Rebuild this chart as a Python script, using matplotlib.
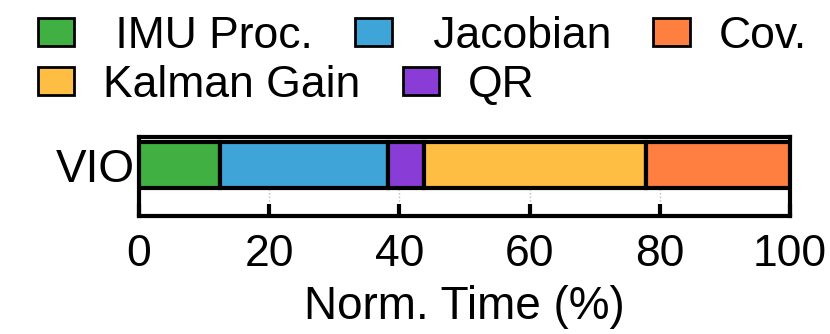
import matplotlib
matplotlib.use('Agg')
import matplotlib.pyplot as plt
from matplotlib.patches import Patch

plt.rcParams['font.family'] = ['Liberation Sans', 'DejaVu Sans']

# data (percent of total time)
rows = ['VIO']
stages = ['IMU Proc.', 'Jacobian', 'QR', 'Kalman Gain', 'Cov.']
shares = [12.4, 25.8, 5.6, 34.1, 22.1]
colors = ['#41B043', '#3FA4D8', '#8A3CD6', '#FDBE43', '#FE7F40']
xticks = [0, 20, 40, 60, 80, 100]

fs = 33
fig = plt.figure(figsize=(8.3, 3.34), dpi=100)
ax = fig.add_axes([139/830, 1-216/334, 651/830, 79/334])

left = 0
for s, v, c in zip(stages, shares, colors):
    ax.barh(0, v, left=left, height=0.6, color=c, edgecolor='black',
            linewidth=3, zorder=3)
    left += v

ax.set_xlim(0, 100)
ax.set_ylim(-0.6625, 0.37)
ax.set_yticks([0])
ax.set_yticklabels(rows, fontsize=fs)
ax.tick_params(axis='y', length=0, pad=3)
ax.set_xticks(xticks)
ax.set_xticklabels([str(t) for t in xticks], fontsize=32)
ax.tick_params(axis='x', direction='in', length=9, width=3, pad=13)
ax.set_xlabel('Norm. Time (%)', fontsize=fs, labelpad=7)
ax.grid(axis='x', color='#bbbbbb', linestyle=':', linewidth=1, zorder=0)
for sp in ax.spines.values():
    sp.set_linewidth(3)

# legend split into two rows like the original
h = {s: Patch(facecolor=c, edgecolor='black', linewidth=2) for s, c in zip(stages, colors)}
kw = dict(frameon=False, fontsize=32, handlelength=0.82, handleheight=0.58,
          handletextpad=0.65, columnspacing=0.95, borderpad=0, borderaxespad=0)
leg1 = fig.legend([h['IMU Proc.'], h['Jacobian'], h['Cov.']],
                  [' IMU Proc.', ' Jacobian', 'Cov.'], ncol=3, loc='upper left',
                  bbox_to_anchor=(38/830, 1-16/334), **kw)
leg2 = fig.legend([h['Kalman Gain'], h['QR']], ['Kalman Gain', 'QR'], ncol=2,
                  loc='upper left', bbox_to_anchor=(38/830, 1-65/334), **kw)

fig.savefig('out.png', dpi=100)
